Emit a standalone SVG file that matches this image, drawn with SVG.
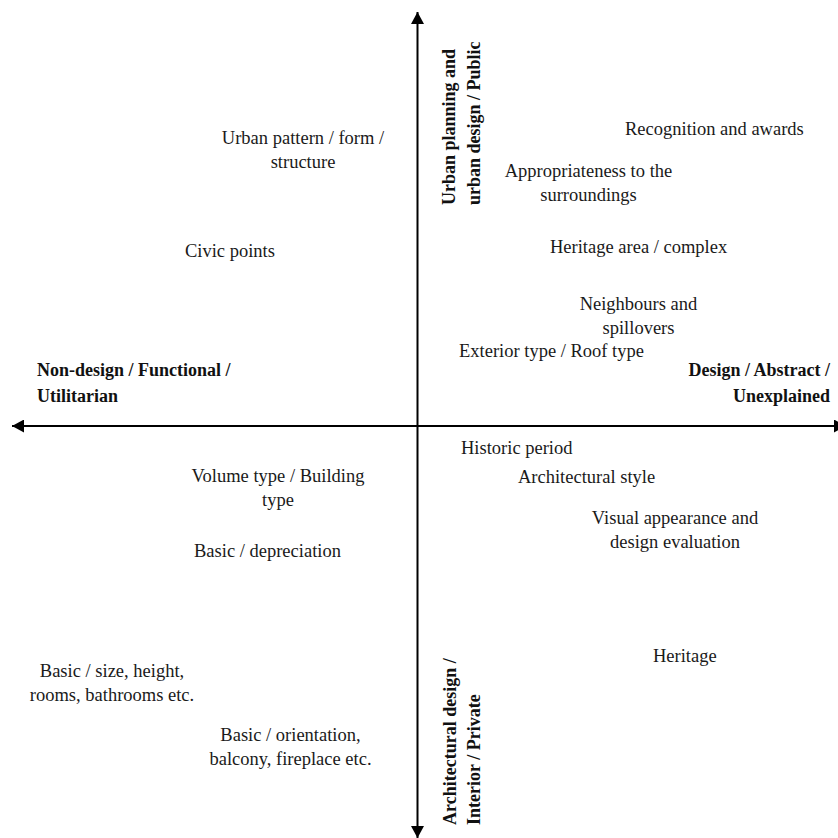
<svg xmlns="http://www.w3.org/2000/svg" width="838" height="838" viewBox="0 0 838 838">
<defs>
<marker id="ah" viewBox="0 0 12 13" refX="12" refY="6.5" markerWidth="12" markerHeight="13" markerUnits="userSpaceOnUse" orient="auto">
<path d="M0,0 L12,6.5 L0,13 Z" fill="#000"/>
</marker>
<style>
text{font-family:"Liberation Serif","Times New Roman",serif;fill:#1a1a1a}
.t{font-size:18.5px}
.m{text-anchor:middle}
.e{text-anchor:end}
.b{font-size:18px;font-weight:bold;fill:#111}
.ax{stroke:#000;stroke-width:2;fill:none;marker-end:url(#ah)}
</style>
</defs>
<rect width="838" height="838" fill="#fff"/>
<g id="connectors">
<line class="ax" x1="417.5" y1="426" x2="417.5" y2="12"/>
<line class="ax" x1="417.5" y1="426" x2="417.5" y2="838"/>
<line class="ax" x1="417.5" y1="426" x2="12" y2="426"/>
<line class="ax" x1="417.5" y1="426" x2="846" y2="426"/>
</g>
<g id="axis-top"><text class="b" transform="translate(455,205) rotate(-90)">Urban planning and</text><text class="b" transform="translate(480,205) rotate(-90)">urban design / Public</text></g>
<g id="axis-bottom"><text class="b" transform="translate(456,825) rotate(-90)">Architectural design /</text><text class="b" transform="translate(480,825) rotate(-90)">Interior / Private</text></g>
<g id="axis-left"><text class="b" x="37" y="376">Non-design / Functional /</text><text class="b" x="37" y="402">Utilitarian</text></g>
<g id="axis-right"><text class="b e" x="830" y="376">Design / Abstract /</text><text class="b e" x="830" y="402">Unexplained</text></g>
<g id="urban-pattern"><text class="t m" x="303" y="144">Urban pattern / form /</text><text class="t m" x="303" y="168">structure</text></g>
<g id="civic-points"><text class="t" x="185" y="257">Civic points</text></g>
<g id="recognition"><text class="t" x="625" y="135">Recognition and awards</text></g>
<g id="appropriateness"><text class="t m" x="588.5" y="177">Appropriateness to the</text><text class="t m" x="588.5" y="201">surroundings</text></g>
<g id="heritage-area"><text class="t" x="550" y="253">Heritage area / complex</text></g>
<g id="neighbours"><text class="t m" x="638.5" y="310">Neighbours and</text><text class="t m" x="638.5" y="334">spillovers</text></g>
<g id="exterior"><text class="t" x="459" y="357">Exterior type / Roof type</text></g>
<g id="historic"><text class="t" x="461" y="454">Historic period</text></g>
<g id="arch-style"><text class="t" x="518" y="483">Architectural style</text></g>
<g id="visual"><text class="t m" x="675" y="524">Visual appearance and</text><text class="t m" x="675" y="548">design evaluation</text></g>
<g id="heritage"><text class="t" x="653" y="662">Heritage</text></g>
<g id="volume"><text class="t m" x="278" y="482">Volume type / Building</text><text class="t m" x="278" y="506">type</text></g>
<g id="depreciation"><text class="t" x="194" y="557">Basic / depreciation</text></g>
<g id="size"><text class="t m" x="112" y="677">Basic / size, height,</text><text class="t m" x="112" y="701">rooms, bathrooms etc.</text></g>
<g id="orientation"><text class="t m" x="290.5" y="741">Basic / orientation,</text><text class="t m" x="290.5" y="765">balcony, fireplace etc.</text></g>
</svg>
